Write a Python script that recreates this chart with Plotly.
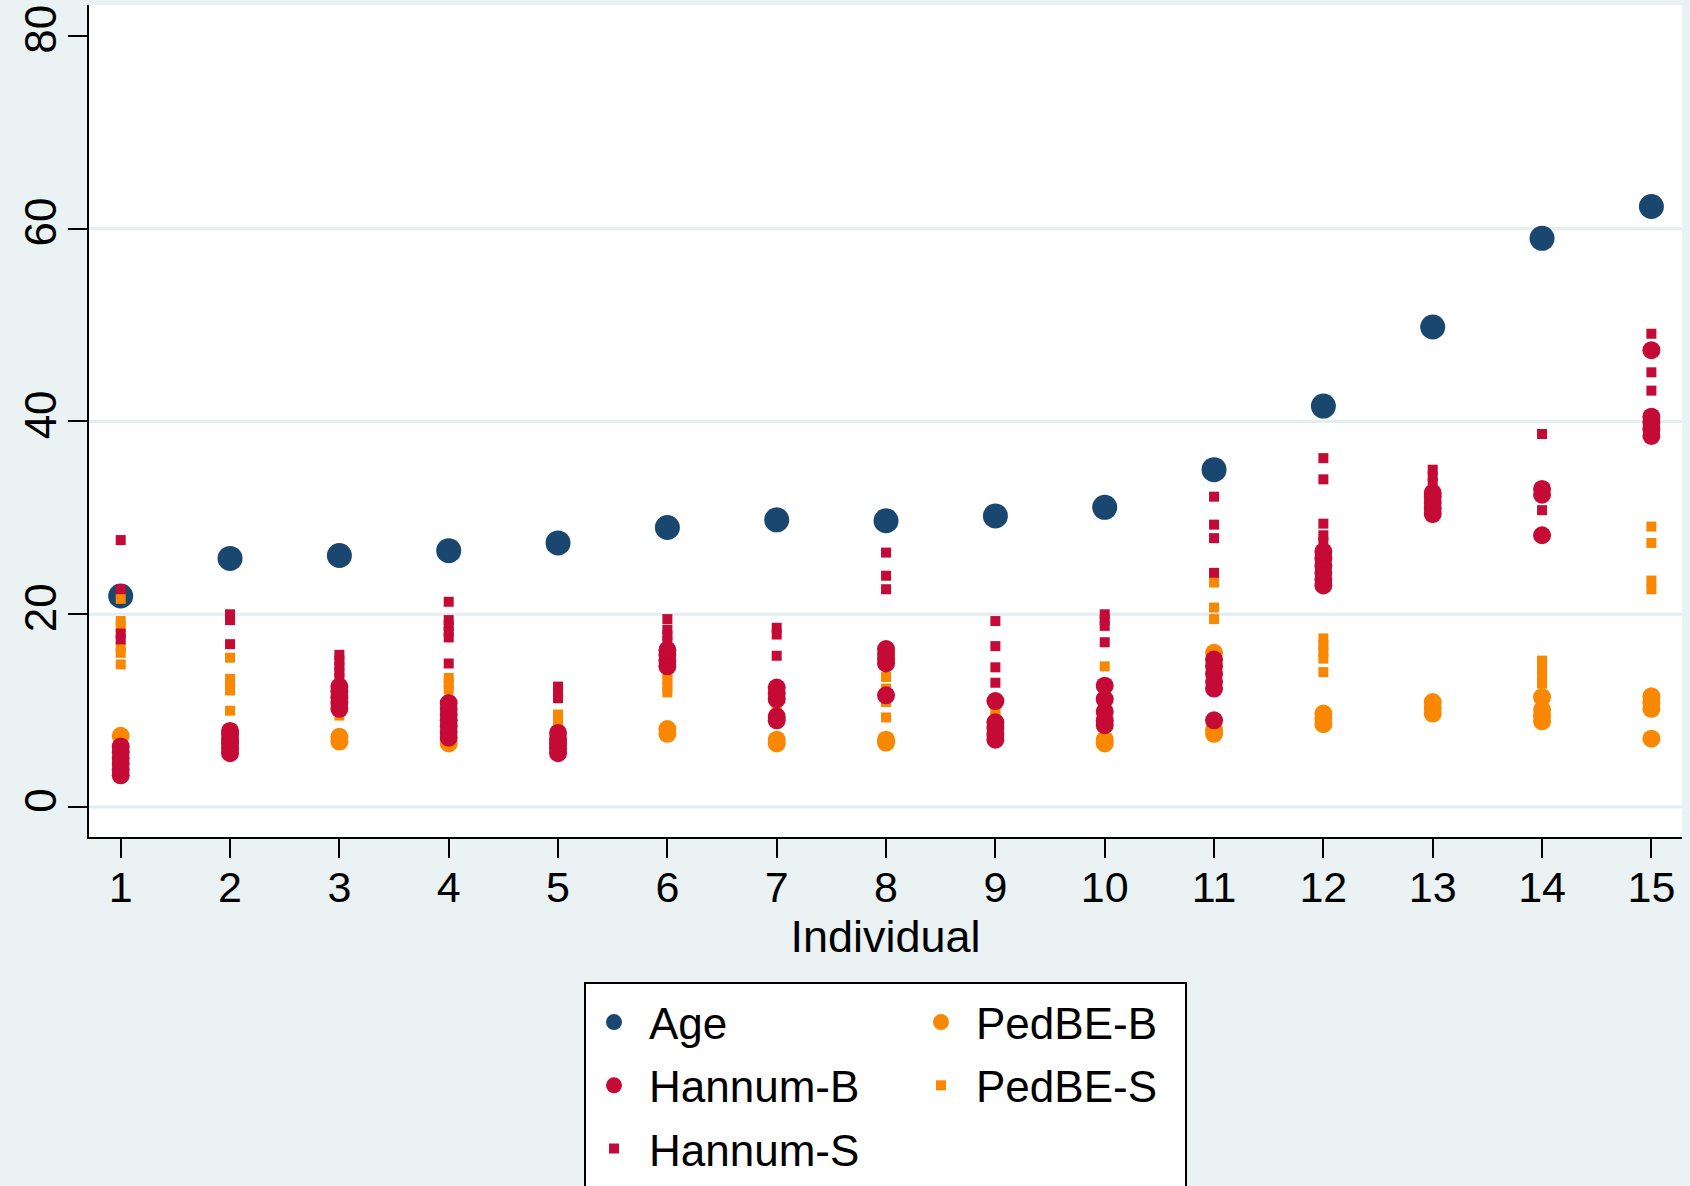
import plotly.graph_objects as go

# ---------------- data ----------------
individual = list(range(1, 16))
age = [21.9, 25.8, 26.1, 26.6, 27.4, 29.0, 29.8, 29.7, 30.2, 31.1, 35.0, 41.6, 49.8, 59.0, 62.3]

hannum_b = [
    [3.3, 3.9, 4.5, 5.1, 5.7, 6.3],
    [5.6, 6.1, 6.6, 7.1, 7.6, 7.9],
    [10.2, 10.8, 11.4, 12.0, 12.5],
    [7.2, 7.8, 8.4, 9.0, 9.6, 10.2, 10.8],
    [5.6, 6.1, 6.6, 7.1, 7.7],
    [14.6, 15.2, 15.8, 16.3],
    [9.0, 9.4, 11.2, 11.8, 12.4],
    [11.6, 14.9, 15.4, 15.9, 16.4],
    [7.0, 7.6, 8.2, 8.8, 11.0],
    [8.5, 9.0, 9.9, 11.2, 12.6],
    [9.0, 12.3, 13.0, 13.8, 14.6, 15.3],
    [23.0, 23.6, 24.3, 25.0, 25.8, 26.5],
    [30.4, 31.0, 31.6, 32.2, 32.6],
    [28.2, 32.4, 33.0],
    [38.5, 39.2, 39.9, 40.5, 47.4],
]
hannum_s = [
    [27.7, 22.6, 18.0, 17.4],
    [20.0, 19.4, 16.9],
    [15.8, 15.2, 14.6, 14.0, 13.4],
    [21.3, 19.4, 18.8, 18.2, 17.6, 14.9],
    [12.5, 11.9, 11.3],
    [19.5, 18.4, 17.8, 17.2],
    [18.6, 17.9, 15.7],
    [26.4, 24.0, 22.6],
    [19.3, 16.7, 14.5, 12.9],
    [20.0, 19.4, 18.8, 17.1],
    [32.2, 29.3, 27.9, 24.3],
    [36.2, 34.0, 29.4, 28.2, 27.5],
    [35.0, 34.3, 33.6],
    [38.7, 30.8],
    [49.1, 45.1, 43.2],
]
pedbe_b = [
    [7.4],
    [6.8],
    [6.8, 7.3],
    [6.6],
    [6.6],
    [7.6, 8.1],
    [6.6, 7.0],
    [6.7, 7.0],
    [7.4],
    [6.6, 7.0],
    [7.6, 8.0, 16.0],
    [8.6, 9.2, 9.7],
    [9.7, 10.3, 10.9],
    [8.9, 9.5, 10.1, 11.4],
    [7.1, 10.2, 10.8, 11.5],
]
pedbe_s = [
    [21.6, 19.3, 18.7, 16.6, 16.0, 14.8],
    [15.5, 13.3, 12.7, 12.1, 10.0],
    [9.5],
    [13.4, 12.8, 12.2],
    [9.6, 8.9],
    [13.8, 13.2, 12.5, 11.9],
    [10.6, 10.1, 9.8],
    [13.5, 12.3, 10.9, 9.3],
    [10.6, 10.0, 9.4],
    [14.6, 12.1, 10.7],
    [23.3, 20.7, 19.5, 8.0],
    [17.5, 16.8, 16.1, 15.4, 14.0],
    [10.5],
    [15.2, 14.4, 13.6, 12.8],
    [29.1, 27.4, 23.5, 22.6],
]

y_ticks = [0, 20, 40, 60, 80]
y_grid = [0, 20, 40, 60]

# ---------------- helpers ----------------
def flatten(groups):
    xs, ys = [], []
    for ind, vals in zip(individual, groups):
        for v in vals:
            xs.append(ind)
            ys.append(v)
    return xs, ys

NAVY = "#1A476F"
RED = "#C40A35"
ORANGE = "#F98700"
BG = "#EAF2F3"
FONT = "Liberation Sans, Arial, sans-serif"

fig = go.Figure()

# Drawing order (bottom to top): Age, PedBE-B, PedBE-S, Hannum-B, Hannum-S
fig.add_trace(go.Scatter(x=individual, y=age, mode="markers", name="Age",
                         marker=dict(color=NAVY, size=25, symbol="circle"),
                         legend="legend", legendgroup="a", legendrank=1))
x, y = flatten(pedbe_b)
fig.add_trace(go.Scatter(x=x, y=y, mode="markers", name="PedBE-B",
                         marker=dict(color=ORANGE, size=18, symbol="circle"),
                         legend="legend2", legendgroup="d", legendrank=1))
x, y = flatten(pedbe_s)
fig.add_trace(go.Scatter(x=x, y=y, mode="markers", name="PedBE-S",
                         marker=dict(color=ORANGE, size=10, symbol="square"),
                         legend="legend2", legendgroup="e", legendrank=2))
x, y = flatten(hannum_b)
fig.add_trace(go.Scatter(x=x, y=y, mode="markers", name="Hannum-B",
                         marker=dict(color=RED, size=18, symbol="circle"),
                         legend="legend", legendgroup="b", legendrank=2))
x, y = flatten(hannum_s)
fig.add_trace(go.Scatter(x=x, y=y, mode="markers", name="Hannum-S",
                         marker=dict(color=RED, size=10, symbol="square"),
                         legend="legend", legendgroup="c", legendrank=3))

W, H = 1690, 1186
L, R, T, B = 89, 8, 5, 349
pw, ph = W - L - R, H - T - B

def px_x(p):
    return (p - L) / pw

def px_y(p):
    return (H - B - p) / ph

legend_common = dict(
    orientation="v", xanchor="left", yanchor="top",
    bgcolor="rgba(0,0,0,0)", borderwidth=0,
    font=dict(family=FONT, size=44, color="black"),
    itemsizing="trace", itemwidth=60, traceorder="grouped", tracegroupgap=3,
)

grid_shapes = [dict(type="line", xref="paper", yref="y", x0=0, x1=1, y0=g, y1=g,
                    line=dict(color="#E4EDEF", width=3), layer="below")
               for g in y_grid]

fig.update_layout(
    width=W, height=H,
    margin=dict(l=L, r=R, t=T, b=B, pad=0, autoexpand=False),
    paper_bgcolor=BG, plot_bgcolor="white",
    font=dict(family=FONT, size=44, color="black"),
    showlegend=True,
    legend=dict(x=px_x(579), y=px_y(987), **legend_common),
    legend2=dict(x=px_x(906), y=px_y(987), **legend_common),
    xaxis=dict(
        range=[0.71, 15.28], tickvals=individual, ticktext=[str(i) for i in individual],
        ticks="outside", ticklen=19, tickwidth=2, tickcolor="black",
        showline=True, linecolor="black", linewidth=2,
        showgrid=False, zeroline=False, automargin=False,
        ticklabelstandoff=-8,
        tickfont=dict(family=FONT, size=43, color="black"),
        title=dict(text="Individual", font=dict(family=FONT, size=45, color="black"), standoff=0),
    ),
    yaxis=dict(
        range=[-3.1, 83.2], tickvals=y_ticks, ticktext=[str(v) for v in y_ticks],
        ticks="outside", ticklen=19, tickwidth=2, tickcolor="black",
        showline=True, linecolor="black", linewidth=2,
        showgrid=False, zeroline=False, automargin=False,
        tickangle=-90, ticklabelstandoff=-6, ticklabeloverflow="allow",
        tickfont=dict(family=FONT, size=44, color="black"),
    ),
    shapes=grid_shapes + [dict(
        type="rect", xref="paper", yref="paper",
        x0=px_x(585), x1=px_x(1186), y0=px_y(983), y1=px_y(1230),
        line=dict(color="black", width=2), fillcolor="white", layer="below",
    )],
)

fig.write_html("out.html")
